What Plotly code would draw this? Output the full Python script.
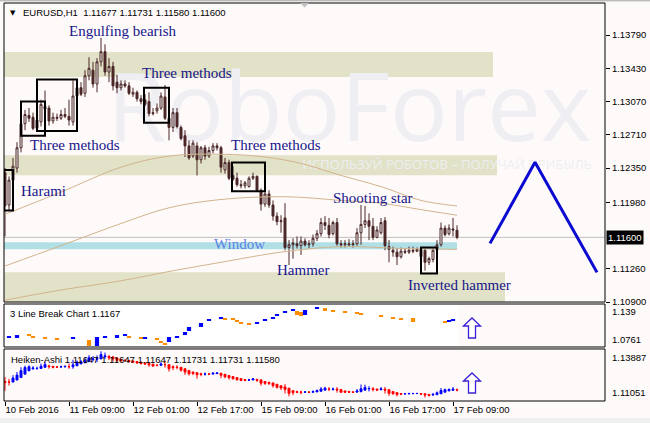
import plotly.graph_objects as go

# ---- EURUSD H1 candles (10 Feb 2016 -> 17 Feb 2016) ----
bar_idx = list(range(114))
opens = [1.1230, 1.1195, 1.1222, 1.1235, 1.1257, 1.1283, 1.1292, 1.1290, 1.1278, 1.1285,
         1.1302, 1.1300, 1.1286, 1.1290, 1.1289, 1.1293, 1.1291, 1.1285, 1.1313, 1.1322,
         1.1316, 1.1335, 1.1341, 1.1326, 1.1350, 1.1361, 1.1339, 1.1345, 1.1328, 1.1322,
         1.1326, 1.1324, 1.1315, 1.1317, 1.1310, 1.1309, 1.1307, 1.1295, 1.1297, 1.1300,
         1.1312, 1.1289, 1.1279, 1.1295, 1.1279, 1.1270, 1.1259, 1.1248, 1.1259, 1.1244,
         1.1257, 1.1248, 1.1254, 1.1259, 1.1257, 1.1233, 1.1241, 1.1227, 1.1224, 1.1217,
         1.1216, 1.1215, 1.1224, 1.1226, 1.1211, 1.1196, 1.1207, 1.1195, 1.1183, 1.1177,
         1.1181, 1.1149, 1.1152, 1.1153, 1.1151, 1.1156, 1.1152, 1.1153, 1.1159, 1.1164,
         1.1176, 1.1173, 1.1164, 1.1176, 1.1153, 1.1152, 1.1153, 1.1152, 1.1153, 1.1165,
         1.1174, 1.1178, 1.1172, 1.1160, 1.1165, 1.1178, 1.1150, 1.1146, 1.1144, 1.1139,
         1.1145, 1.1144, 1.1146, 1.1145, 1.1147, 1.1146, 1.1133, 1.1136, 1.1146, 1.1152,
         1.1170, 1.1164, 1.1169, 1.11677]
highs = [1.1235, 1.1226, 1.1246, 1.1263, 1.1289, 1.1298, 1.1300, 1.1295, 1.1292, 1.1309,
         1.1319, 1.1303, 1.1295, 1.1294, 1.1298, 1.1300, 1.1309, 1.1330, 1.1326, 1.1328,
         1.1341, 1.1355, 1.1350, 1.1354, 1.1376, 1.1369, 1.1354, 1.1350, 1.1336, 1.1330,
         1.1330, 1.1328, 1.1322, 1.1319, 1.1314, 1.1315, 1.1317, 1.1300, 1.1305, 1.1317,
         1.1325, 1.1292, 1.1300, 1.1300, 1.1281, 1.1276, 1.1265, 1.1265, 1.1263, 1.1259,
         1.1260, 1.1258, 1.1262, 1.1262, 1.1259, 1.1246, 1.1244, 1.1237, 1.1230, 1.1222,
         1.1221, 1.1226, 1.1230, 1.1227, 1.1213, 1.1209, 1.1211, 1.1200, 1.1187, 1.1184,
         1.1197, 1.1157, 1.1159, 1.1161, 1.1161, 1.1159, 1.1157, 1.1163, 1.1168, 1.1181,
         1.1183, 1.1181, 1.1178, 1.1181, 1.1157, 1.1157, 1.1158, 1.1157, 1.1170, 1.1195,
         1.1194, 1.1186, 1.1181, 1.1172, 1.1181, 1.1182, 1.1157, 1.1150, 1.1148, 1.1149,
         1.1148, 1.1150, 1.1150, 1.1149, 1.1149, 1.1148, 1.1139, 1.1149, 1.1157, 1.1176,
         1.1173, 1.1174, 1.1181, 1.11731]
lows = [1.1161, 1.1189, 1.1217, 1.1230, 1.1252, 1.1276, 1.1285, 1.1276, 1.1275, 1.1280,
        1.1294, 1.1281, 1.1283, 1.1286, 1.1287, 1.1289, 1.1281, 1.1281, 1.1309, 1.1313,
        1.1312, 1.1330, 1.1322, 1.1317, 1.1345, 1.1335, 1.1328, 1.1319, 1.1316, 1.1319,
        1.1322, 1.1314, 1.1312, 1.1307, 1.1304, 1.1302, 1.1291, 1.1292, 1.1294, 1.1298,
        1.1287, 1.1265, 1.1274, 1.1278, 1.1265, 1.1247, 1.1244, 1.1246, 1.1227, 1.1240,
        1.1244, 1.1246, 1.1251, 1.1254, 1.1230, 1.1229, 1.1222, 1.1221, 1.1215, 1.1213,
        1.1213, 1.1214, 1.1222, 1.1209, 1.1189, 1.1193, 1.1192, 1.1178, 1.1173, 1.1165,
        1.1146, 1.1130, 1.1137, 1.1148, 1.1141, 1.1150, 1.1148, 1.1150, 1.1156, 1.1161,
        1.1168, 1.1159, 1.1162, 1.1151, 1.1149, 1.1149, 1.1150, 1.1149, 1.1151, 1.1152,
        1.1170, 1.1157, 1.1157, 1.1159, 1.1163, 1.1146, 1.1133, 1.1139, 1.1130, 1.1137,
        1.1142, 1.1142, 1.1143, 1.1144, 1.1137, 1.1124, 1.1130, 1.1133, 1.1144, 1.1150,
        1.1161, 1.1162, 1.1161, 1.11580]
closes = [1.1194, 1.1222, 1.1237, 1.1257, 1.1283, 1.1293, 1.1289, 1.1278, 1.1287, 1.1304,
          1.1299, 1.1286, 1.1290, 1.1289, 1.1293, 1.1291, 1.1287, 1.1313, 1.1322, 1.1315,
          1.1335, 1.1343, 1.1326, 1.1350, 1.1361, 1.1339, 1.1345, 1.1324, 1.1322, 1.1326,
          1.1324, 1.1316, 1.1317, 1.1310, 1.1307, 1.1304, 1.1294, 1.1294, 1.1300, 1.1313,
          1.1289, 1.1279, 1.1295, 1.1280, 1.1267, 1.1259, 1.1246, 1.1262, 1.1244, 1.1257,
          1.1248, 1.1254, 1.1259, 1.1257, 1.1236, 1.1241, 1.1224, 1.1223, 1.1217, 1.1216,
          1.1219, 1.1224, 1.1226, 1.1211, 1.1196, 1.1207, 1.1195, 1.1183, 1.1177, 1.1178,
          1.1149, 1.1152, 1.1154, 1.1151, 1.1156, 1.1152, 1.1153, 1.1159, 1.1164, 1.1176,
          1.1173, 1.1163, 1.1176, 1.1153, 1.1152, 1.1153, 1.1152, 1.1153, 1.1165, 1.1174,
          1.1178, 1.1172, 1.1160, 1.1168, 1.1176, 1.1151, 1.1147, 1.1144, 1.1139, 1.1145,
          1.1144, 1.1146, 1.1145, 1.1147, 1.1139, 1.1133, 1.1137, 1.1146, 1.1152, 1.1170,
          1.1163, 1.1170, 1.1168, 1.11600]

# moving averages (read at a few bars)
ma_fast_idx = [0, 14, 29, 41, 54, 65, 74, 84, 94, 104, 113]
ma_fast = [1.1185, 1.1209, 1.1236, 1.1248, 1.1250, 1.1247, 1.1240, 1.1227, 1.1215, 1.1200, 1.1194]
ma_mid_idx = [0, 14, 29, 41, 54, 70, 84, 94, 104, 113]
ma_mid = [1.1129, 1.1151, 1.1175, 1.1192, 1.1201, 1.1204, 1.1200, 1.1197, 1.1190, 1.1184]
ma_slow_idx = [0, 14, 29, 41, 54, 69, 84, 99, 113]
ma_slow = [1.1092, 1.1103, 1.1113, 1.1123, 1.1133, 1.1144, 1.1150, 1.1148, 1.1147]

# 3 line break blocks: bar, low, high, direction (1 up / -1 down)
lb_idx = [1, 3, 6, 7, 10, 13, 17, 21, 23, 25, 28, 30, 31, 34, 35, 38, 39, 40, 41, 43,
          45, 46, 49, 51, 54, 55, 57, 58, 59, 61, 63, 65, 67, 68, 70, 72, 73, 74, 75, 78,
          80, 82, 85, 88, 89, 94, 97, 99, 102, 110, 111, 112]
lb_lo = [1.0893, 1.0907, 1.0922, 1.0893, 1.0878, 1.0863, 1.0878, 1.0776, 1.0776, 1.0893,
         1.0907, 1.0922, 1.0893, 1.0878, 1.0878, 1.0863, 1.0819, 1.0790, 1.0834, 1.0893,
         1.0936, 1.0995, 1.1054, 1.1141, 1.1171, 1.1156, 1.1156, 1.1127, 1.1097, 1.1083,
         1.1097, 1.1141, 1.1171, 1.1214, 1.1258, 1.1288, 1.1229, 1.1214, 1.1229, 1.1317,
         1.1302, 1.1273, 1.1258, 1.1244, 1.1229, 1.1200, 1.1171, 1.1156, 1.1127, 1.1112,
         1.1127, 1.1141]
lb_hi = [1.0922, 1.0936, 1.0951, 1.0922, 1.0907, 1.0893, 1.0907, 1.0863, 1.0907, 1.0922,
         1.0936, 1.0951, 1.0922, 1.0907, 1.0907, 1.0893, 1.0849, 1.0819, 1.0907, 1.0922,
         1.0980, 1.1054, 1.1112, 1.1171, 1.1200, 1.1185, 1.1185, 1.1156, 1.1127, 1.1112,
         1.1127, 1.1171, 1.1200, 1.1244, 1.1288, 1.1317, 1.1288, 1.1273, 1.1302, 1.1346,
         1.1331, 1.1302, 1.1288, 1.1273, 1.1258, 1.1229, 1.1200, 1.1185, 1.1185, 1.1141,
         1.1156, 1.1171]
lb_dir = [1, 1, -1, -1, -1, -1, 1, -1, 1, 1, 1, 1, -1, -1, 1, -1, -1, -1, 1, 1,
          1, 1, 1, 1, 1, -1, -1, -1, -1, -1, 1, 1, 1, 1, 1, 1, -1, -1, 1, 1,
          -1, -1, -1, -1, -1, -1, -1, -1, -1, -1, 1, 1]

# drawn zigzag forecast
zz_idx = [121.25, 132.5, 148]
zz_price = [1.11535, 1.12413, 1.11221]

x_tick_idx = [0, 16, 32, 48, 64, 80, 96, 112]
x_tick_text = ["10 Feb 2016", "11 Feb 09:00", "12 Feb 01:00", "12 Feb 17:00",
               "15 Feb 09:00", "16 Feb 01:00", "16 Feb 17:00", "17 Feb 09:00"]
y_tick_vals = [1.1379, 1.1343, 1.1307, 1.1271, 1.1235, 1.1198, 1.1126, 1.1090]

# Heiken-Ashi from the candles
ha_o, ha_c, ha_h, ha_l = [], [], [], []
for i in bar_idx:
    c = (opens[i] + highs[i] + lows[i] + closes[i]) / 4
    o = (opens[i] + closes[i]) / 2 if i == 0 else (ha_o[-1] + ha_c[-1]) / 2
    ha_o.append(o)
    ha_c.append(c)
    ha_h.append(max(highs[i], o, c))
    ha_l.append(min(lows[i], o, c))

SANS = "Liberation Sans"
SERIF = "Liberation Serif"
CANDLE = "#4a2626"
LBL = "#16168a"

fig = go.Figure()

fig.add_trace(go.Candlestick(
    x=bar_idx, open=opens, high=highs, low=lows, close=closes,
    increasing=dict(line=dict(color=CANDLE, width=1), fillcolor="#ffffff"),
    decreasing=dict(line=dict(color=CANDLE, width=1), fillcolor=CANDLE),
    whiskerwidth=0, hoverinfo="skip", showlegend=False))

for xi, yi in [(ma_fast_idx, ma_fast), (ma_mid_idx, ma_mid), (ma_slow_idx, ma_slow)]:
    fig.add_trace(go.Scatter(x=xi, y=yi, mode="lines", line=dict(color="#d2b48c", width=1, shape="spline"),
                             hoverinfo="skip", showlegend=False))

fig.add_trace(go.Scatter(x=zz_idx, y=zz_price, mode="lines", line=dict(color="#0a0ad0", width=3),
                         hoverinfo="skip", showlegend=False))

fig.add_trace(go.Bar(
    x=lb_idx, y=[h - l for h, l in zip(lb_hi, lb_lo)], base=lb_lo, width=1.05,
    marker=dict(color=["#0000ff" if d > 0 else "#ff8c00" for d in lb_dir], line=dict(width=0)),
    xaxis="x", yaxis="y2", hoverinfo="skip", showlegend=False))

fig.add_trace(go.Candlestick(
    x=bar_idx, open=ha_o, high=ha_h, low=ha_l, close=ha_c,
    increasing=dict(line=dict(color="#0000ff", width=1), fillcolor="#0000ff"),
    decreasing=dict(line=dict(color="#ff0000", width=1), fillcolor="#ff0000"),
    whiskerwidth=0, xaxis="x", yaxis="y3", hoverinfo="skip", showlegend=False))

shapes = []
# white background of the line-break window
shapes.append(dict(type="rect", xref="x", yref="y2 domain", x0=-0.25, x1=113.3, y0=0, y1=1,
                   fillcolor="#ffffff", line=dict(width=0), layer="below"))
# zones
khaki = "#e2e2c8"
for y0, y1, x1 in [(1.13335, 1.13606, 122), (1.12272, 1.12489, 123), (1.1085, 1.11221, 125)]:
    shapes.append(dict(type="rect", xref="x", yref="y", x0=-0.25, x1=x1, y0=y0, y1=y1,
                       fillcolor=khaki, line=dict(width=0), layer="below"))
shapes.append(dict(type="rect", xref="x", yref="y", x0=-0.25, x1=113, y0=1.1147, y1=1.11546,
                   fillcolor="#b0e0e6", line=dict(width=0), layer="below"))
# watermark
shapes.append(dict(type="rect", xref="x", yref="y", x0=24.5, x1=147.5, y0=1.1272, y1=1.1322,
                   line=dict(width=0), layer="below",
                   label=dict(text="RoboForex", textposition="middle center",
                              font=dict(family="Open Sans", size=96, color="#eeeef3"))))
shapes.append(dict(type="rect", xref="x", yref="y", x0=70, x1=148.2, y0=1.1233, y1=1.1243,
                   line=dict(width=0), layer="below",
                   label=dict(text="ИСПОЛЬЗУЙ РОБОТОВ – ПОЛУЧАЙ ПРИБЫЛЬ", textposition="middle right",
                              font=dict(family="Open Sans", size=13, color="#eeeef0"))))
# current price line
shapes.append(dict(type="line", xref="paper", yref="y", x0=0, x1=1, y0=1.1160, y1=1.1160,
                   line=dict(color="#c0c0c0", width=1), layer="below"))
# pattern boxes
for x0, x1, y0, y1 in [(-0.25, 2, 1.1189, 1.1233), (4, 10, 1.1270, 1.1307), (8, 18, 1.1275, 1.1331),
                       (34.75, 41, 1.1284, 1.1322), (56.75, 65, 1.1210, 1.1241), (104, 108, 1.1121, 1.1149)]:
    shapes.append(dict(type="rect", xref="x", yref="y", x0=x0, x1=x1, y0=y0, y1=y1,
                       line=dict(color="#000000", width=2)))
# panel borders
for yr in ["y domain", "y2 domain", "y3 domain"]:
    shapes.append(dict(type="rect", xref="paper", yref=yr, x0=0, x1=1, y0=0, y1=1,
                       line=dict(color="#000000", width=1)))
# up arrows in sub windows
arrow = "M -8.5,2 L 0,10 L 8.5,2 L 3.5,2 L 3.5,-10 L -3.5,-10 L -3.5,2 Z"
for yr, yv in [("y2", 1.1039), ("y3", 1.12033)]:
    shapes.append(dict(type="path", xref="x", yref=yr, xsizemode="pixel", ysizemode="pixel",
                       xanchor=116.75, yanchor=yv, path=arrow,
                       fillcolor="#ffffff", line=dict(color="#3a22d8", width=1.3)))
# window frame bits
shapes.append(dict(type="rect", xref="paper", yref="paper", x0=-0.01, x1=1.08, y0=-0.07, y1=-0.043,
                   fillcolor="#f0f0f0", line=dict(width=0)))
shapes.append(dict(type="line", xref="paper", yref="paper", x0=-0.01, x1=1.08, y0=1.0055, y1=1.0055,
                   line=dict(color="#a0a0a0", width=1)))
shapes.append(dict(type="path", xref="paper", yref="paper",
                   path="M 0.4925,1.0 L 0.5075,1.0 L 0.5,0.989 Z", fillcolor="#c0c0c0", line=dict(width=0)))

annotations = []


def note(text, x, y, size=15, color=LBL, family=SERIF):
    annotations.append(dict(text=text, x=x, y=y, xref="x", yref="y", xanchor="left", yanchor="middle",
                            showarrow=False, font=dict(family=family, size=size, color=color)))


note("Engulfing bearish", 15.5, 1.13833)
note("Three methods", 33.75, 1.13378)
note("Three methods", 5.75, 1.1260)
note("Harami", 3.5, 1.1210)
note("Three methods", 56, 1.1260)
note("Shooting star", 81.5, 1.12023)
note("Window", 51.75, 1.11524, color="#5b80e4")
note("Hammer", 67.5, 1.11242)
note("Inverted hammer", 100.25, 1.1108)

small = dict(family=SANS, size=9.5, color="#000000")
annotations.append(dict(text="▼", x=0.006, y=1, xref="paper", yref="paper", xanchor="left", yanchor="top",
                        yshift=-4, showarrow=False, font=dict(family="DejaVu Sans", size=7, color="#000000")))
annotations.append(dict(text="EURUSD,H1\u00a0\u00a01.11677 1.11731 1.11580 1.11600", x=0.028, y=1,
                        xref="paper", yref="paper", xanchor="left", yanchor="top", yshift=-2,
                        showarrow=False, font=small))
annotations.append(dict(text="1.11600", x=1, y=1.1160, xref="paper", yref="y", xanchor="left",
                        yanchor="middle", xshift=1, showarrow=False, bgcolor="#000000", borderpad=1,
                        font=dict(family=SANS, size=9.5, color="#ffffff")))
annotations.append(dict(text="3 Line Break Chart 1.1167", x=0.006, y=1, xref="paper", yref="y2 domain",
                        xanchor="left", yanchor="top", yshift=-2, showarrow=False, font=small))
annotations.append(dict(text="Heiken-Ashi 1.11647 1.11647 1.11647 1.11731 1.11731 1.11580", x=0.008, y=1,
                        xref="paper", yref="y3 domain", xanchor="left", yanchor="top", yshift=-3,
                        showarrow=False, font=small))
for txt, yr, yv, anc, sh in [("1.139", "y2 domain", 1, "top", 0), ("1.0761", "y2 domain", 0, "bottom", 0),
                             ("1.13887", "y3 domain", 1, "top", -1), ("1.11051", "y3 domain", 0, "bottom", 1)]:
    annotations.append(dict(text=txt, x=1, y=yv, xref="paper", yref=yr, xanchor="left", yanchor=anc,
                            xshift=5, yshift=sh, showarrow=False, font=small))

fig.update_layout(
    width=650, height=423,
    margin=dict(l=4, r=45, t=3, b=22, autoexpand=False),
    paper_bgcolor="#fffafa", plot_bgcolor="#fffafa",
    showlegend=False,
    shapes=shapes, annotations=annotations,
    xaxis=dict(range=[-0.25, 150], anchor="y3", showgrid=False, zeroline=False, automargin=False,
               rangeslider=dict(visible=False), tickangle=0,
               tickmode="array", tickvals=x_tick_idx, ticktext=x_tick_text,
               ticks="outside", ticklen=4, tickcolor="#000000",
               ticklabelposition="outside right", tickfont=small),
    yaxis=dict(domain=[0.2487, 1], range=[1.1090, 1.14137], side="right", showgrid=False, zeroline=False,
               automargin=False,
               tickmode="array", tickvals=y_tick_vals, ticktext=[f"{v:.5f}" for v in y_tick_vals],
               ticks="outside", ticklen=4, tickcolor="#000000", tickfont=small),
    yaxis2=dict(domain=[0.1357, 0.2437], range=[1.0761, 1.139], showgrid=False, zeroline=False,
                showticklabels=False, automargin=False),
    yaxis3=dict(domain=[0, 0.1307], range=[1.11051, 1.13887], showgrid=False, zeroline=False,
                showticklabels=False, automargin=False),
)

# page body has a default margin; drop it so the figure sits at the window corner
fig.write_html("out.html", config={"displayModeBar": False},
               post_script="document.body.style.margin='0';document.body.style.background='#fffafa';")
